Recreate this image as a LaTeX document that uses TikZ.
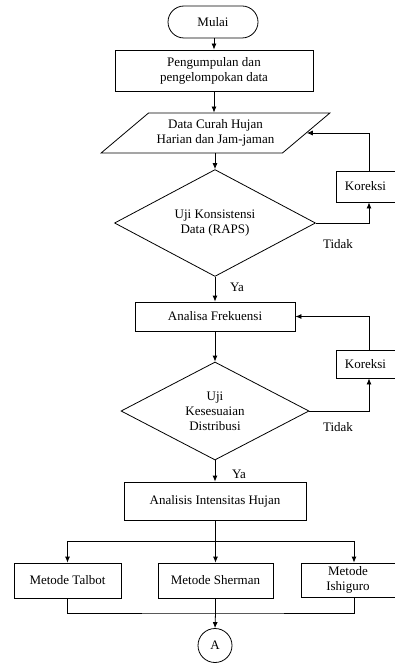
\documentclass[tikz,border=0pt]{standalone}
\usepackage{fontspec}
\setmainfont{Liberation Serif}
\usetikzlibrary{arrows.meta,shapes.geometric,shapes.misc}
\tikzset{
	every node/.style={font=\fontsize{13}{15}\selectfont},
	garis/.style={line width=0.8pt},
	panah/.style={garis, -{Latex[length=6pt,width=5pt]}},
	mulaibox/.style={draw, garis, rounded rectangle, inner sep=0pt},
	proses/.style={draw, garis, rectangle, inner sep=0pt, align=center},
	inputbox/.style={draw, garis, trapezium, trapezium left angle=42, trapezium right angle=138,
		inner xsep=2pt, inner ysep=6pt, trapezium stretches, align=center},
	keputusan/.style={draw, garis, diamond, inner sep=0pt, align=center},
	konektor/.style={draw, garis, circle, inner sep=0pt, minimum size=34pt}
}
\begin{document}
\begin{tikzpicture}[x=1pt, y=-1pt]
	\useasboundingbox (0,0) rectangle (395,663);
	% bagian atas
	\node[mulaibox, minimum width=90pt, minimum height=32pt] (mulai) at (213,22) {Mulai};
	\node[proses, minimum width=198pt, minimum height=41pt] (kumpul) at (214,70.5)
		{Pengumpulan dan\\pengelompokan data};
	\node[inputbox, minimum width=229pt, minimum height=40pt] (data) at (215.5,133)
		{Data Curah Hujan\\Harian dan Jam-jaman};
	\node[keputusan, minimum width=201pt, minimum height=98pt] (uji1) at (215,223)
		{Uji Konsistensi\\Data (RAPS)};
	\node[proses, minimum width=59pt, minimum height=31pt] (kor1) at (365.5,186.5) {Koreksi};
	\node (tidak1) at (338,244) {Tidak};
	\node (ya1) at (237,287) {Ya};
	% frekuensi
	\node[proses, minimum width=160pt, minimum height=29pt] (frek) at (215,316.5) {Analisa Frekuensi};
	\node[keputusan, minimum width=188pt, minimum height=98pt] (uji2) at (215,411)
		{Uji\\Kesesuaian\\Distribusi};
	\node[proses, minimum width=59pt, minimum height=28pt] (kor2) at (365.5,364) {Koreksi};
	\node (tidak2) at (338,427) {Tidak};
	\node (ya2) at (239,474) {Ya};
	% intensitas
	\node[proses, minimum width=182pt, minimum height=38pt] (intens) at (215,501) {Analisis Intensitas Hujan};
	\node[proses, minimum width=107pt, minimum height=35pt] (talbot) at (67.5,580.5) {Metode Talbot};
	\node[proses, minimum width=115pt, minimum height=35pt] (sherman) at (215.5,580.5) {Metode Sherman};
	\node[proses, minimum width=94pt, minimum height=34pt] (ishiguro) at (348,580) {Metode\\Ishiguro};
	\node[konektor] (A) at (215,645.5) {A};
	\coordinate (cabang) at (215,541);
	\coordinate (gabung) at (215,613);

	\draw[panah] (mulai.south -| kumpul.north) -- (kumpul.north);
	\draw[panah] (kumpul.south) -- (kumpul.south |- data.north);
	\draw[panah] (data.south -| uji1.north) -- (uji1.north);
	\draw[panah] (uji1.east) -| ([xshift=3.5pt]kor1.south);
	\draw[panah] ([xshift=3.5pt]kor1.north) |- (data.east);
	\draw[panah] (uji1.south) -- (frek.north);
	\draw[panah] (frek.south) -- (uji2.north);
	\draw[panah] (uji2.east) -| ([xshift=3.5pt]kor2.south);
	\draw[panah] ([xshift=3.5pt]kor2.north) |- (frek.east);
	\draw[panah] (uji2.south) -- (intens.north);
	\draw[garis] (intens.south) -- (cabang);
	\draw[panah] (cabang) -| (talbot.north);
	\draw[panah] (cabang) -| ([xshift=6pt]ishiguro.north);
	\draw[panah] (cabang) -- (cabang -| sherman.north) -- (sherman.north);
	\draw[garis] (talbot.south) |- (gabung) -| ([xshift=6pt]ishiguro.south);
	\draw[panah] (sherman.south |- gabung) -- (A.north);
	\draw[garis] (sherman.south) -- (sherman.south |- gabung);
\end{tikzpicture}
\end{document}
